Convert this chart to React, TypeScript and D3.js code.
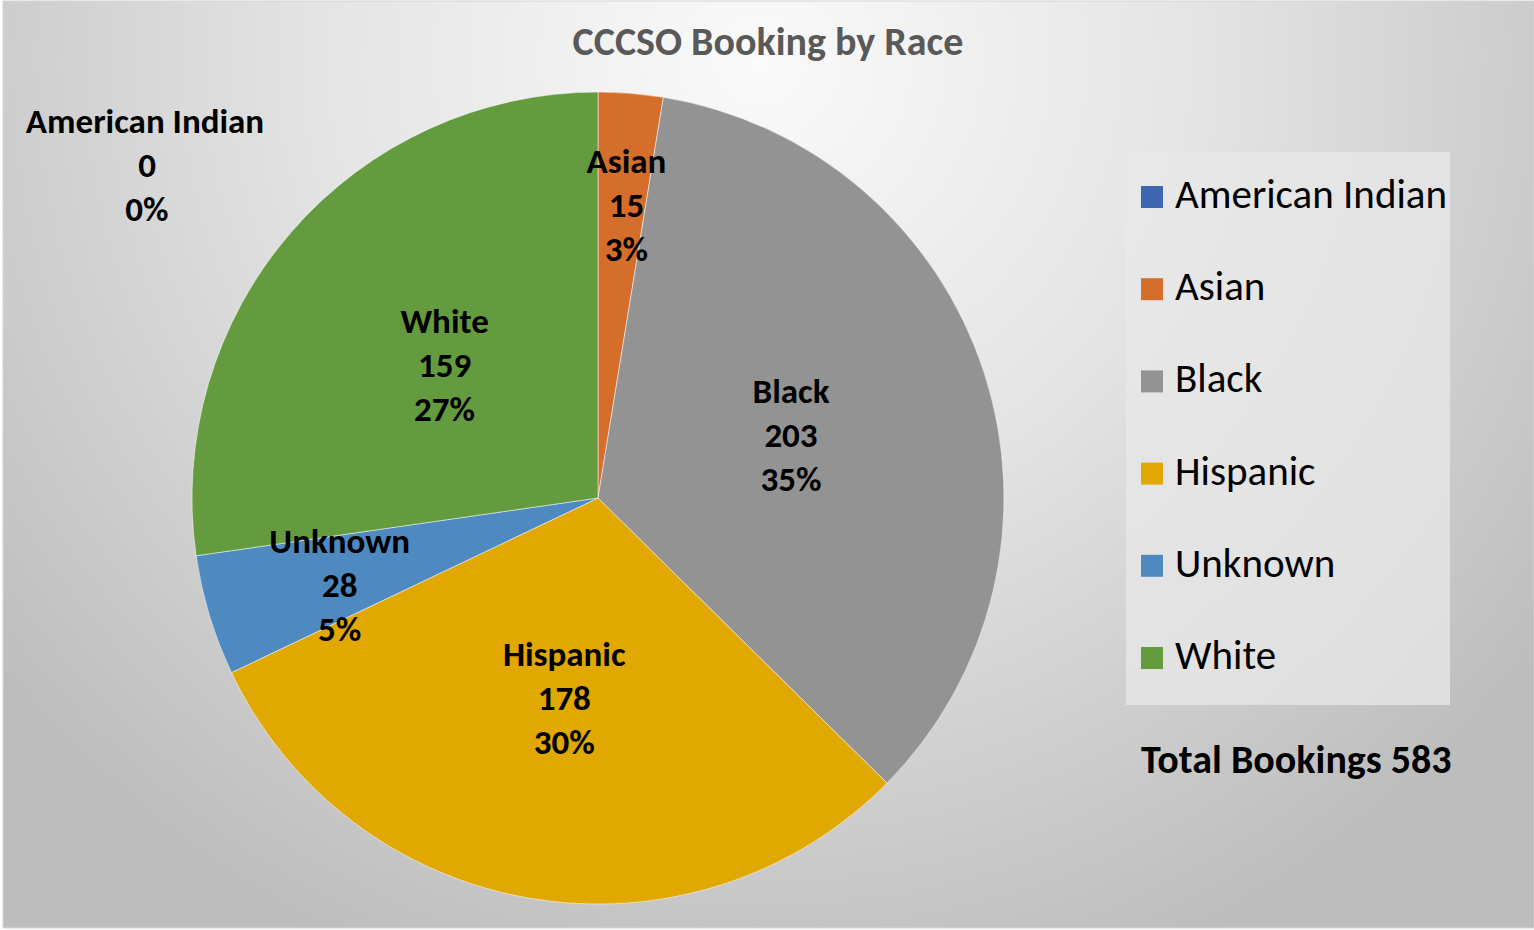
import React from "react";
import * as d3 from "d3";

const categories = ["American Indian", "Asian", "Black", "Hispanic", "Unknown", "White"];
const values = [0, 15, 203, 178, 28, 159];
const percentLabels = ["0%", "3%", "35%", "30%", "5%", "27%"];
const colors = ["#3F66B0", "#D56D2B", "#939393", "#E0A800", "#4E8AC0", "#639B3E"];
const title = "CCCSO Booking by Race";
const totalLabel = "Total Bookings 583";

// layout: label nudges from the slice centroid (Excel best-fit placement)
const labelNudgeX = [0, 12, 0, 0, -64, 0];
const labelNudgeY = [0, -91, 0, 0, 28, 0];

const W = 1534;
const H = 930;
const cx = 598;
const cy = 498;
const R = 406;
const FONT = "Carlito, Calibri, Lato, sans-serif";

export default function App() {
  const pie = d3
    .pie<number>()
    .sort(null)
    .startAngle(0)
    .endAngle(2 * Math.PI)(values);
  const arc = d3.arc<d3.PieArcDatum<number>>().innerRadius(0).outerRadius(R);
  const labelArc = d3.arc<d3.PieArcDatum<number>>().innerRadius(0).outerRadius(R);

  const legendY = d3.scalePoint<string>().domain(categories).range([197, 658]);

  return (
    <svg
      width={W}
      height={H}
      style={{ position: "absolute", left: 0, top: 0, display: "block" }}
    >
      <defs>
        <radialGradient id="bg" gradientUnits="userSpaceOnUse" cx={760} cy={60} r={980}>
          <stop offset="0" stopColor="#fafafa" />
          <stop offset="0.45" stopColor="#e4e4e4" />
          <stop offset="1" stopColor="#bdbdbd" />
        </radialGradient>
      </defs>
      <rect x={3} y={1} width={W - 3} height={H - 3} fill="url(#bg)" stroke="#d4d4d4" strokeWidth={1} />
      <text
        x={768}
        y={55}
        textAnchor="middle"
        fontFamily={FONT}
        fontWeight="bold"
        fontSize={40}
        fill="#595959"
      >
        {title}
      </text>
      <g transform={`translate(${cx},${cy})`}>
        {pie.map((d, i) => (
          <path key={i} d={arc(d) || ""} fill={colors[i]} stroke="#ffffff" strokeOpacity={0.5} strokeWidth={1} />
        ))}
        {pie.map((d, i) => {
          if (values[i] === 0) return null;
          const [x0, y0] = labelArc.centroid(d);
          const x = x0 + labelNudgeX[i];
          const y = y0 + labelNudgeY[i];
          return (
            <g key={"l" + i} fontFamily={FONT} fontWeight="bold" fontSize={35} fill="#000" textAnchor="middle">
              <text x={x} y={y - 44} dominantBaseline="central">{categories[i]}</text>
              <text x={x} y={y} dominantBaseline="central">{values[i]}</text>
              <text x={x} y={y + 44} dominantBaseline="central">{percentLabels[i]}</text>
            </g>
          );
        })}
      </g>
      {/* zero-value label placed outside by Excel */}
      <g fontFamily={FONT} fontWeight="bold" fontSize={35} fill="#000" textAnchor="middle">
        <text x={145} y={121} dominantBaseline="central">{categories[0]}</text>
        <text x={147} y={165} dominantBaseline="central">{values[0]}</text>
        <text x={147} y={209} dominantBaseline="central">{percentLabels[0]}</text>
      </g>
      <rect x={1126} y={152} width={324} height={553} fill="#e8e8e8" fillOpacity={0.75} />
      {categories.map((c, i) => (
        <g key={"lg" + i}>
          <rect x={1141} y={(legendY(c) as number) - 11} width={22} height={22} fill={colors[i]} />
          <text
            x={1175}
            y={(legendY(c) as number) + 11}
            fontFamily={FONT}
            fontSize={41}
            fill="#000"
          >
            {c}
          </text>
        </g>
      ))}
      <text x={1141} y={773} fontFamily={FONT} fontWeight="bold" fontSize={40} fill="#000">
        {totalLabel}
      </text>
    </svg>
  );
}
